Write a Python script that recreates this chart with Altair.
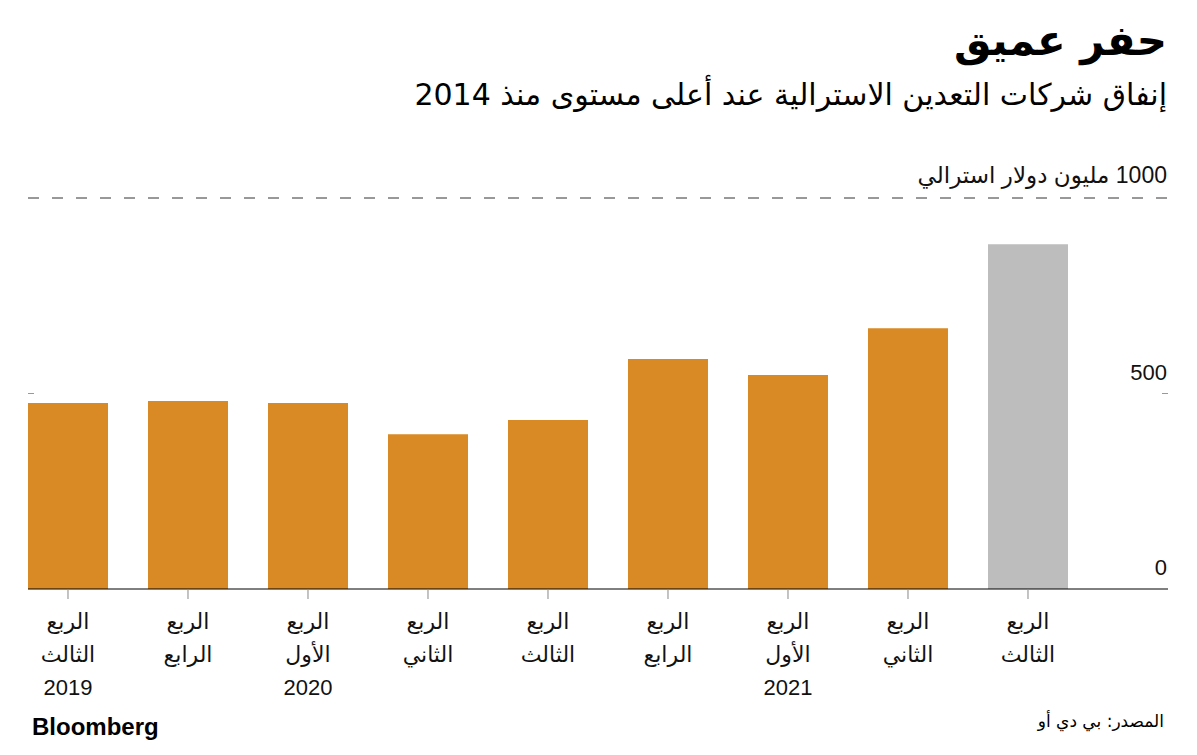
import altair as alt
import pandas as pd

# ---- data ----
quarters = ["Q3-2019", "Q4-2019", "Q1-2020", "Q2-2020", "Q3-2020",
            "Q4-2020", "Q1-2021", "Q2-2021", "Q3-2021"]
labels = ["الربع\nالثالث\n2019", "الربع\nالرابع", "الربع\nالأول\n2020",
          "الربع\nالثاني", "الربع\nالثالث", "الربع\nالرابع",
          "الربع\nالأول\n2021", "الربع\nالثاني", "الربع\nالثالث"]
values = [476, 481, 476, 396, 432, 588, 547, 667, 882]
is_latest = [False] * 8 + [True]

y_ticks = [0, 500]
y_top = [1000]
y_top_label = ["\u200F1000 مليون دولار استرالي"]

title = "حفر عميق"
subtitle = "\u200Fإنفاق شركات التعدين الاسترالية عند أعلى مستوى منذ 2014"
source = "المصدر: بي دي أو"
brand = "Bloomberg"

ORANGE = "#DA8A25"
GREY = "#BDBDBD"
FONT = "Liberation Sans, DejaVu Sans, sans-serif"
AR_FONT = "DejaVu Sans, sans-serif"

W, H = 1140, 391

df = pd.DataFrame({"q": quarters, "label": labels, "v": values, "latest": is_latest})

xscale = alt.Scale(domain=quarters, paddingInner=1/3, paddingOuter=0.4167, align=0)
yscale = alt.Scale(domain=[0, 1000])

base = alt.Chart(df)

bars = base.mark_bar().encode(
    x=alt.X("q:N", scale=xscale, axis=None, sort=quarters),
    y=alt.Y("v:Q", scale=yscale, axis=None),
    color=alt.Color("latest:N", scale=alt.Scale(domain=[False, True], range=[ORANGE, GREY]), legend=None),
)

xticks = base.mark_rule(color="#888888", strokeWidth=1).encode(
    x=alt.X("q:N", scale=xscale, axis=None, sort=quarters),
    y=alt.value(H), y2=alt.value(H + 10),
)

xlabels = base.mark_text(font=FONT, fontSize=22, lineBreak="\n", lineHeight=33,
                         baseline="top", align="center", color="#111111").encode(
    x=alt.X("q:N", scale=xscale, axis=None, sort=quarters),
    y=alt.value(H + 23),
    text="label:N",
)

baseline = alt.Chart(pd.DataFrame({"v": [0]})).mark_rule(color="#000000", strokeWidth=1).encode(
    y=alt.Y("v:Q", scale=yscale, axis=None),
    x=alt.value(0), x2=alt.value(W),
)

ydf = pd.DataFrame({"v": y_ticks})
ylabels = alt.Chart(ydf).mark_text(font=FONT, fontSize=22, align="right",
                                   baseline="alphabetic", dy=-14, color="#111111").encode(
    y=alt.Y("v:Q", scale=yscale, axis=None),
    x=alt.value(W - 1),
    text="v:Q",
)

tick500 = pd.DataFrame({"v": [500]})
ytick_r = alt.Chart(tick500).mark_rule(color="#999999").encode(
    y=alt.Y("v:Q", scale=yscale, axis=None), x=alt.value(W - 6), x2=alt.value(W))
ytick_l = alt.Chart(tick500).mark_rule(color="#999999").encode(
    y=alt.Y("v:Q", scale=yscale, axis=None), x=alt.value(0), x2=alt.value(6))

topdf = pd.DataFrame({"v": y_top, "t": y_top_label})
grid_top = alt.Chart(topdf).mark_rule(color="#333333", strokeDash=[11, 13], strokeWidth=1).encode(
    y=alt.Y("v:Q", scale=yscale, axis=None), x=alt.value(0), x2=alt.value(W))
top_label = alt.Chart(topdf).mark_text(font=FONT, fontSize=23, align="right",
                                       baseline="alphabetic", dy=-15, color="#111111").encode(
    y=alt.Y("v:Q", scale=yscale, axis=None), x=alt.value(W - 1), text="t:N")

def single_text(txt, x, y, size, align, weight="normal", font=AR_FONT, color="#000000", baseline="middle"):
    return alt.Chart(pd.DataFrame({"t": [txt]})).mark_text(
        font=font, fontSize=size, fontWeight=weight, align=align, baseline=baseline, color=color
    ).encode(x=alt.value(x), y=alt.value(y), text="t:N")

t_title = single_text(title, W - 1, -156, 42, "right", weight="bold")
t_sub = single_text(subtitle, W - 1, -102, 30, "right")
t_src = single_text(source, W - 4, 524, 17, "right")
t_brand = single_text(brand, 4, 530, 24, "left", weight="bold", font="Liberation Sans, Arial, sans-serif")

chart = alt.layer(
    grid_top, bars, baseline, xticks, xlabels, ylabels, ytick_r, ytick_l, top_label,
    t_title, t_sub, t_src, t_brand
).properties(
    width=W, height=H,
    padding={"left": 20, "top": 190, "right": 21, "bottom": 155},
    autosize=alt.AutoSizeParams(type="none"),
    background="white",
).configure_view(stroke=None)

chart.save("out.html", embed_options={"renderer": "svg", "actions": False})
